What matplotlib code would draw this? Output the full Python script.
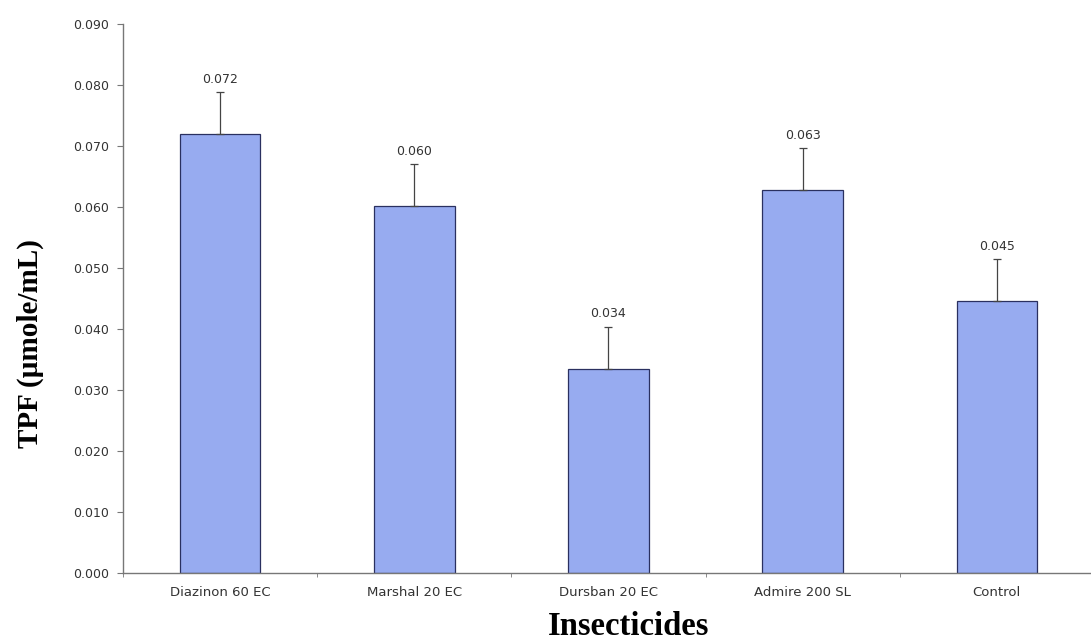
import matplotlib
matplotlib.use("Agg")
import matplotlib.pyplot as plt
import numpy as np

# Données
insecticides = ["Diazinon 60 EC", "Marshal 20 EC", "Dursban 20 EC", "Admire 200 SL", "Control"]
tpf = [0.072, 0.0602, 0.0335, 0.0628, 0.0446]
erreurs = [0.0068, 0.0068, 0.0068, 0.0068, 0.0068]
etiquettes = ["0.072", "0.060", "0.034", "0.063", "0.045"]
graduations_y = [0.000, 0.010, 0.020, 0.030, 0.040, 0.050, 0.060, 0.070, 0.080, 0.090]

fig = plt.figure(figsize=(10.91, 6.44), dpi=100)
ax = fig.add_axes([0.1127, 0.1102, 0.8900, 0.8525])

x = np.arange(len(insecticides))
ax.bar(x, tpf, width=0.415, color="#97abf0", edgecolor="#2a3060", linewidth=0.9, zorder=2)
ax.errorbar(x, tpf, yerr=[np.zeros(len(erreurs)), erreurs], fmt="none",
            ecolor="#444444", elinewidth=0.9, capsize=3, capthick=0.9, zorder=3)

# Valeurs au-dessus des barres
for xi, v, e, lab in zip(x, tpf, erreurs, etiquettes):
    ax.text(xi, v + e + 0.0011, lab, ha="center", va="bottom",
            fontsize=9, family="DejaVu Sans", color="#333333")

ax.set_xlim(-0.5, len(insecticides) - 0.5)
ax.set_ylim(0, 0.090)
ax.set_yticks(graduations_y)
ax.set_yticklabels(["%.3f" % g for g in graduations_y], family="DejaVu Sans",
                   fontsize=9, color="#333333")
ax.set_xticks(x)
ax.set_xticklabels(insecticides, family="DejaVu Sans", fontsize=9.5, color="#333333")
ax.tick_params(axis="x", length=0, pad=9)
ax.set_xticks(np.arange(len(insecticides) + 1) - 0.5, minor=True)
ax.tick_params(axis="x", which="minor", length=3, color="#777777")
ax.tick_params(axis="y", length=4, color="#777777", pad=6)

for side in ["top", "right"]:
    ax.spines[side].set_visible(False)
for side in ["left", "bottom"]:
    ax.spines[side].set_color("#777777")
    ax.spines[side].set_linewidth(1.0)

# Titres des axes
fig.text(0.0275, 0.466, "TPF (µmole/mL)", family="Liberation Serif", fontweight="bold",
         fontsize=21, rotation=90, ha="center", va="center")
fig.text(0.5765, 0.014, "Insecticides", family="Liberation Serif", fontweight="bold",
         fontsize=23.5, ha="center", va="baseline")

fig.savefig("out.png", dpi=100)
